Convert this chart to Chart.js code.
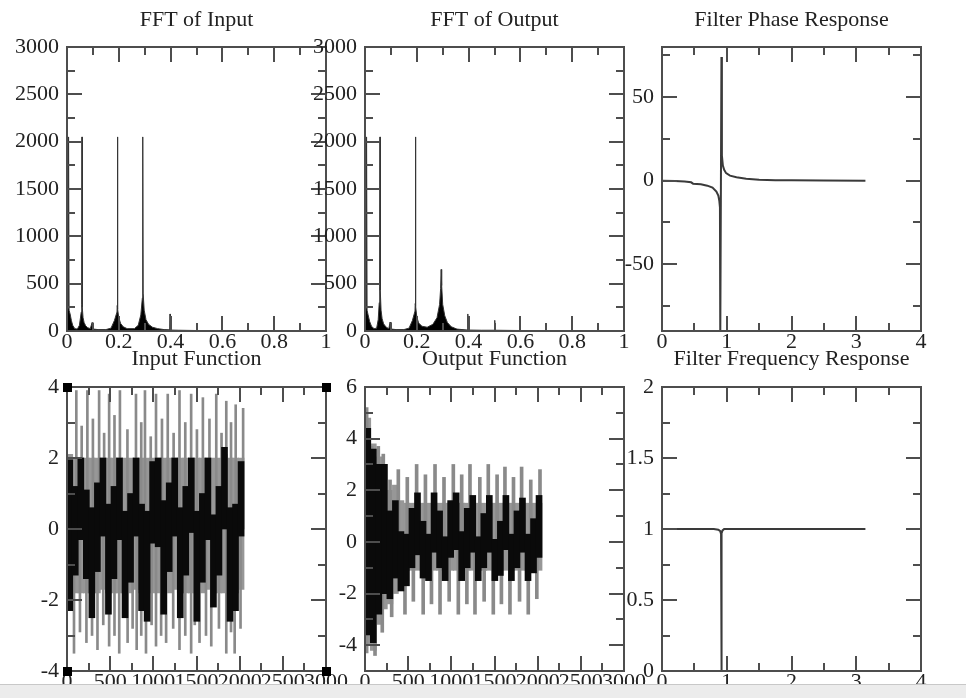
<!DOCTYPE html>
<html>
<head>
<meta charset="utf-8">
<title>Notch filter</title>
<script src="https://cdn.jsdelivr.net/npm/chart.js@4.4.1/dist/chart.umd.min.js"></script>
<style>
    body { margin: 0; background: #fff; }
    #page { position: relative; width: 966px; height: 698px; overflow: hidden; background: #fff; }
    #page canvas { position: absolute; left: 0; top: 0; }
    #statusbar { position: absolute; left: 0; right: 0; top: 684px; bottom: 0; background: #ececec; border-top: 1px solid #c8c8c8; }
</style>
</head>
<body>
<div id="page">
    <canvas id="fftInput" width="966" height="698"></canvas>
    <canvas id="fftOutput" width="966" height="698"></canvas>
    <canvas id="phase" width="966" height="698"></canvas>
    <canvas id="inputFn" width="966" height="698"></canvas>
    <canvas id="outputFn" width="966" height="698"></canvas>
    <canvas id="freqResp" width="966" height="698"></canvas>
    <div id="statusbar"></div>
</div>
<script>
// time panels: 64-sample bins, dense core / lighter band
const binCenters = [32, 96, 160, 224, 288, 352, 416, 480, 544, 608, 672, 736, 800, 864, 928, 992,
                    1056, 1120, 1184, 1248, 1312, 1376, 1440, 1504, 1568, 1632, 1696, 1760, 1824, 1888, 1952, 2016]

const inputCoreHi = [1.95, 1.2, 2.0, 1.1, 0.6, 1.3, 2.0, 0.7, 1.2, 2.0, 0.5, 1.0, 2.0, 0.7, 0.5, 1.9,
                     2.0, 0.8, 1.3, 2.0, 0.6, 1.2, 2.0, 0.5, 1.0, 2.0, 0.4, 1.2, 2.3, 0.6, 0.7, 1.9]
const inputCoreLo = [-2.3, -1.3, -0.3, -1.4, -2.5, -1.2, -0.2, -2.4, -1.4, -0.3, -2.5, -1.5, -0.2, -2.3, -2.6, -0.4,
                     -0.5, -2.4, -1.2, -0.2, -2.5, -1.3, -0.1, -2.6, -1.5, -0.3, -2.2, -1.3, 0.0, -2.6, -2.3, -0.2]
const inputBandHi = [2.1, 2.0, 2.0, 2.0, 2.0, 2.0, 2.0, 2.0, 2.0, 2.0, 2.0, 2.0, 2.0, 2.0, 2.0, 2.0,
                     2.0, 2.0, 2.0, 2.0, 2.0, 2.0, 2.0, 2.0, 2.0, 2.0, 2.0, 2.0, 2.1, 2.0, 2.0, 2.0]
const inputBandLo = [-1.8, -1.8, -1.8, -1.8, -1.8, -1.8, -1.7, -1.8, -1.8, -1.8, -1.8, -1.8, -1.7, -1.8, -1.8, -1.8,
                     -1.8, -1.8, -1.8, -1.7, -1.8, -1.8, -1.8, -1.8, -1.8, -1.7, -1.8, -1.8, -1.8, -1.8, -1.8, -1.7]
const inputPeakX  = [108, 170, 236, 300, 372, 430, 488, 550, 613, 700, 799, 860, 903, 970, 1031, 1100,
                     1167, 1235, 1303, 1370, 1438, 1505, 1574, 1650, 1729, 1790, 1845, 1900, 1954, 2040]
const inputPeakY  = [3.9, 2.9, 3.9, 3.1, 3.9, 2.7, 3.8, 3.2, 3.9, 2.8, 3.8, 3.0, 3.9, 2.6, 3.8, 3.1,
                     3.8, 2.7, 3.9, 3.0, 3.8, 2.8, 3.7, 3.1, 3.8, 2.7, 3.6, 3.0, 3.5, 3.4]
const inputDipX   = [81, 150, 225, 290, 353, 420, 488, 550, 605, 702, 760, 807, 860, 915, 980, 1031,
                     1090, 1148, 1230, 1303, 1370, 1438, 1480, 1535, 1610, 1671, 1760, 1845, 1900, 1942, 2010]
const inputDipY   = [-3.5, -2.9, -3.2, -3.0, -3.4, -2.7, -3.3, -3.0, -3.5, -3.2, -2.8, -3.4, -3.0, -3.5, -2.7, -3.3,
                     -3.0, -3.2, -2.8, -3.4, -3.0, -3.5, -2.7, -3.2, -3.0, -3.3, -2.8, -3.5, -2.9, -3.5, -2.8]

const outputCoreHi = [4.4, 3.6, 3.0, 3.0, 1.2, 1.6, 0.4, 0.3, 1.3, 1.9, 0.8, 0.3, 1.9, 1.2, 0.2, 1.6,
                      1.9, 0.4, 1.3, 1.8, 0.2, 1.1, 1.8, 0.1, 0.8, 1.8, 0.3, 1.2, 1.7, 0.3, 0.9, 1.8]
const outputCoreLo = [-3.6, -3.9, -2.8, -2.0, -2.2, -1.4, -1.9, -1.7, -1.0, -0.5, -1.4, -1.5, -0.4, -1.0, -1.5, -0.6,
                      -0.3, -1.5, -1.0, -0.4, -1.5, -1.0, -0.4, -1.5, -1.3, -0.3, -1.5, -1.0, -0.4, -1.5, -1.2, -0.6]
const outputBandHi = [4.8, 3.8, 3.3, 3.0, 2.0, 2.2, 1.6, 1.5, 1.5, 1.5, 1.5, 1.5, 1.5, 1.5, 1.5, 1.5,
                      1.5, 1.5, 1.5, 1.5, 1.5, 1.5, 1.5, 1.5, 1.5, 1.5, 1.5, 1.5, 1.5, 1.5, 1.5, 1.5]
const outputBandLo = [-4.0, -4.2, -3.2, -2.6, -2.4, -2.0, -1.8, -1.1, -1.1, -1.1, -1.1, -1.1, -1.1, -1.1, -1.1, -1.1,
                      -1.1, -1.1, -1.1, -1.1, -1.1, -1.1, -1.1, -1.1, -1.1, -1.1, -1.1, -1.1, -1.1, -1.1, -1.1, -1.1]
const outputPeakX  = [19, 77, 154, 212, 290, 386, 490, 598, 700, 811, 915, 1023, 1120, 1216, 1330, 1428,
                      1530, 1621, 1720, 1814, 1920, 2027]
const outputPeakY  = [5.2, 3.7, 3.7, 3.4, 2.4, 2.8, 2.5, 3.0, 2.6, 3.0, 2.5, 3.0, 2.6, 3.0, 2.5, 3.0,
                      2.6, 2.9, 2.5, 2.9, 2.4, 2.8]
const outputDipX   = [19, 116, 200, 309, 463, 560, 674, 770, 869, 975, 1081, 1180, 1274, 1380, 1486, 1580,
                      1679, 1790, 1891, 1990]
const outputDipY   = [-4.3, -4.4, -3.5, -2.9, -2.8, -2.3, -2.8, -2.4, -2.8, -2.3, -2.8, -2.4, -2.8, -2.3, -2.8, -2.4,
                      -2.8, -2.3, -2.8, -2.2]

// spectra
const fftInFreq = [0, 0.004, 0.006, 0.008, 0.012, 0.017, 0.022, 0.030, 0.040, 0.048, 0.055, 0.057, 0.058, 0.059,
                   0.062, 0.066, 0.072, 0.080, 0.090, 0.097, 0.100, 0.103, 0.120, 0.150, 0.170, 0.183, 0.193,
                   0.194, 0.195, 0.196, 0.200, 0.207, 0.217, 0.232, 0.260, 0.275, 0.285, 0.291, 0.292, 0.293,
                   0.294, 0.298, 0.305, 0.315, 0.330, 0.350, 0.375, 0.397, 0.398, 0.399, 0.430, 0.500, 0.750]
const fftInMag  = [250, 240, 2050, 220, 180, 110, 60, 25, 20, 60, 200, 280, 2050, 250,
                   140, 90, 55, 35, 25, 90, 40, 20, 15, 15, 30, 110, 200,
                   270, 2050, 230, 140, 80, 45, 25, 25, 60, 170, 350, 430, 2050,
                   400, 220, 120, 70, 40, 25, 15, 12, 180, 10, 8, 5, 5]

const fftOutFreq = [0, 0.004, 0.006, 0.008, 0.012, 0.018, 0.025, 0.035, 0.045, 0.051, 0.055, 0.057, 0.058, 0.059,
                    0.062, 0.066, 0.072, 0.082, 0.092, 0.097, 0.100, 0.103, 0.120, 0.150, 0.170, 0.183, 0.193,
                    0.194, 0.195, 0.196, 0.200, 0.207, 0.220, 0.240, 0.262, 0.278, 0.288, 0.292, 0.294, 0.296,
                    0.300, 0.308, 0.318, 0.333, 0.355, 0.396, 0.397, 0.398, 0.450, 0.500, 0.501, 0.502, 0.600, 0.750]
const fftOutMag  = [250, 240, 2050, 220, 170, 100, 50, 25, 30, 120, 300, 470, 2050, 430,
                    220, 130, 75, 40, 25, 95, 40, 20, 15, 15, 30, 110, 210,
                    290, 2050, 260, 150, 85, 50, 40, 70, 140, 280, 450, 650, 480,
                    280, 160, 90, 45, 20, 10, 180, 10, 8, 8, 113, 8, 5, 5]

// filter response
const phaseOmega = [0, 0.2, 0.35, 0.45, 0.48, 0.6, 0.7, 0.78, 0.84, 0.87, 0.885, 0.895, 0.9, 0.918,
                    0.925, 0.94, 0.96, 0.99, 1.05, 1.15, 1.3, 1.5, 1.75, 2.0, 2.5, 3.1416]
const phaseDeg   = [0, -0.2, -0.5, -1.0, -1.8, -2.2, -3.0, -4.2, -6.5, -9, -12, -16, -95, 74,
                    15, 9, 6.5, 4.5, 3, 2, 1.2, 0.6, 0.3, 0.2, 0.1, 0]

const gainOmega = [0, 0.5, 0.8, 0.87, 0.9, 0.912, 0.916, 0.918, 0.921, 0.925, 0.935, 0.96, 1.1, 2.0, 3.1416]
const gainMag   = [1, 1, 1, 0.995, 0.985, 0.965, 0.5, 0.0, 0.5, 0.97, 0.99, 1, 1, 1, 1]

Chart.defaults.font.family = "'Liberation Serif', 'Times New Roman', serif"
Chart.defaults.font.size   = 22
Chart.defaults.color       = '#222'

const CANVAS_W = 966
const CANVAS_H = 698
const Y_AXIS_W = 60
const X_AXIS_H = 20

// xmgrace look: box frame, inward ticks on all four sides, title above the box
const framePlugin = {
    id: 'frame',
    afterDraw(chart, args, opts) {
        const {ctx, chartArea: area, scales} = chart

        ctx.save()
        ctx.strokeStyle = '#4d4d4d'
        ctx.lineWidth   = 2
        ctx.beginPath()
        scales.x.ticks.forEach(tick => {
            const px  = Math.round(scales.x.getPixelForValue(tick.value))
            const len = tick.label === '' ? 8 : 15
            ctx.moveTo(px, area.bottom)
            ctx.lineTo(px, area.bottom - len)
            ctx.moveTo(px, area.top)
            ctx.lineTo(px, area.top + len)
        })
        scales.y.ticks.forEach(tick => {
            const py  = Math.round(scales.y.getPixelForValue(tick.value))
            const len = tick.label === '' ? 8 : 15
            ctx.moveTo(area.left, py)
            ctx.lineTo(area.left + len, py)
            ctx.moveTo(area.right, py)
            ctx.lineTo(area.right - len, py)
        })
        ctx.stroke()
        ctx.strokeRect(area.left, area.top, area.right - area.left, area.bottom - area.top)

        if (opts.handles) {
            ctx.fillStyle = '#000'
            const corners = [[area.left, area.top], [area.right, area.top], [area.left, area.bottom], [area.right, area.bottom]]
            corners.forEach(([x, y]) => ctx.fillRect(x - 4, y - 4, 9, 9))
        }

        ctx.fillStyle    = '#222'
        ctx.font         = `22px ${Chart.defaults.font.family}`
        ctx.textAlign    = 'center'
        ctx.textBaseline = 'alphabetic'
        ctx.fillText(opts.title, (area.left + area.right) / 2, area.top - opts.titleGap)
        ctx.restore()
    }
}
Chart.register(framePlugin)

function isMultiple(value, step) {
    const r = value / step
    return Math.abs(r - Math.round(r)) < 1e-6
}

function linearAxis(min, max, minorStep, majorStep, isX) {
    return {
        type   : 'linear',
        min    : min,
        max    : max,
        offset : false,
        grid   : {display: false, drawTicks: false},
        border : {display: false},
        ticks  : {
            stepSize     : minorStep,
            autoSkip     : false,
            includeBounds: false,
            maxRotation  : 0,
            minRotation  : 0,
            padding      : isX ? 0 : 8,
            font         : {lineHeight: 1},
            callback     : value => isMultiple(value, majorStep) ? String(parseFloat(value.toFixed(4))) : ''
        },
        afterFit: scale => {
            if (isX) {
                scale.height = X_AXIS_H
            } else {
                scale.width = Y_AXIS_W
            }
        }
    }
}

function makeChart(id, type, datasets, box, xAxis, yAxis, frame) {
    const [left, top, right, bottom] = box

    return new Chart(document.getElementById(id), {
        type   : type,
        data   : {datasets},
        options: {
            responsive      : false,
            animation       : false,
            devicePixelRatio: 1,
            layout          : {
                padding: {left: left - Y_AXIS_W, top: top, right: CANVAS_W - right, bottom: CANVAS_H - bottom - X_AXIS_H}
            },
            plugins         : {legend: {display: false}, tooltip: {enabled: false}, frame},
            scales          : {x: xAxis, y: yAxis}
        }
    })
}

const points = (xs, ys) => xs.map((x, i) => ({x, y: ys[i]}))
const bands  = (hi, lo) => binCenters.map((x, i) => ({x, y: [lo[i], hi[i]]}))
const spikes = (xs, ys) => xs.map((x, i) => ({x, y: [0, ys[i]]}))

function timeDatasets(coreHi, coreLo, bandHi, bandLo, peakX, peakY, dipX, dipY, spikeWidth) {
    return [
        {data: bands(coreHi, coreLo), backgroundColor: '#0a0a0a', barThickness: 6, grouped: false},
        {data: spikes(peakX, peakY).concat(spikes(dipX, dipY)), backgroundColor: '#8a8a8a', barThickness: spikeWidth, grouped: false},
        {data: bands(bandHi, bandLo), backgroundColor: '#979797', barThickness: 6, grouped: false}
    ]
}

function spectrumDataset(xs, ys) {
    return {data: points(xs, ys), borderColor: '#333', borderWidth: 1, backgroundColor: '#000', fill: 'origin', pointRadius: 0, tension: 0}
}

function responseDataset(xs, ys) {
    return {data: points(xs, ys), borderColor: '#3a3a3a', borderWidth: 2, fill: false, pointRadius: 0, tension: 0}
}

const TOP_ROW    = [47, 331]
const BOTTOM_ROW = [387, 671]
const COLUMNS    = [[67, 326], [365, 624], [662, 921]]

const boxAt = (col, row) => [COLUMNS[col][0], row[0], COLUMNS[col][1], row[1]]

makeChart('fftInput', 'line', [spectrumDataset(fftInFreq, fftInMag)], boxAt(0, TOP_ROW),
    linearAxis(0, 1, 0.1, 0.2, true), linearAxis(0, 3000, 250, 500, false),
    {title: 'FFT of Input', titleGap: 21})

makeChart('fftOutput', 'line', [spectrumDataset(fftOutFreq, fftOutMag)], boxAt(1, TOP_ROW),
    linearAxis(0, 1, 0.1, 0.2, true), linearAxis(0, 3000, 250, 500, false),
    {title: 'FFT of Output', titleGap: 21})

makeChart('phase', 'line', [responseDataset(phaseOmega, phaseDeg)], boxAt(2, TOP_ROW),
    linearAxis(0, 4, 0.5, 1, true), linearAxis(-90, 80, 25, 50, false),
    {title: 'Filter Phase Response', titleGap: 21})

makeChart('inputFn', 'bar',
    timeDatasets(inputCoreHi, inputCoreLo, inputBandHi, inputBandLo, inputPeakX, inputPeakY, inputDipX, inputDipY, 2),
    boxAt(0, BOTTOM_ROW),
    linearAxis(0, 3000, 250, 500, true), linearAxis(-4, 4, 1, 2, false),
    {title: 'Input Function', titleGap: 22, handles: true})

makeChart('outputFn', 'bar',
    timeDatasets(outputCoreHi, outputCoreLo, outputBandHi, outputBandLo, outputPeakX, outputPeakY, outputDipX, outputDipY, 3),
    boxAt(1, BOTTOM_ROW),
    linearAxis(0, 3000, 250, 500, true), linearAxis(-5, 6, 1, 2, false),
    {title: 'Output Function', titleGap: 22})

makeChart('freqResp', 'line', [responseDataset(gainOmega, gainMag)], boxAt(2, BOTTOM_ROW),
    linearAxis(0, 4, 0.5, 1, true), linearAxis(0, 2, 0.25, 0.5, false),
    {title: 'Filter Frequency Response', titleGap: 22})
</script>
</body>
</html>
